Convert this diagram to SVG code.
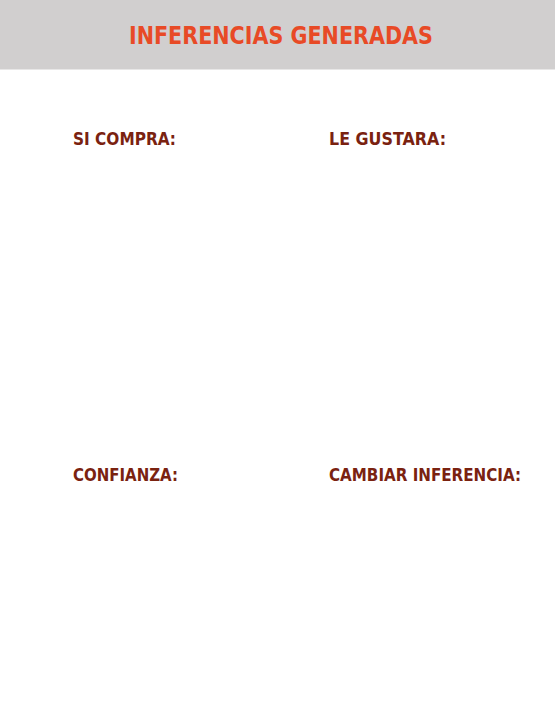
<svg xmlns="http://www.w3.org/2000/svg" width="555" height="705" viewBox="0 0 555 705">
  <style>
    .title { font-family: "DejaVu Sans", "Liberation Sans", sans-serif; font-weight: bold; font-size: 25px; fill: #e84a26; }
    .label { font-family: "DejaVu Sans", "Liberation Sans", sans-serif; font-weight: bold; font-size: 17.5px; fill: #7a2210; }
  </style>
  <rect x="0" y="0" width="555" height="705" fill="#ffffff"/>
  <g id="header">
    <rect x="0" y="0" width="555" height="69.5" fill="#d1cfcf"/>
    <text class="title" x="129" y="44" textLength="304" lengthAdjust="spacingAndGlyphs">INFERENCIAS GENERADAS</text>
  </g>
  <g id="si-compra">
    <text class="label" x="73" y="145" textLength="103" lengthAdjust="spacingAndGlyphs">SI COMPRA:</text>
  </g>
  <g id="le-gustara">
    <text class="label" x="329" y="145" textLength="117" lengthAdjust="spacingAndGlyphs">LE GUSTARA:</text>
  </g>
  <g id="confianza">
    <text class="label" x="73" y="481" textLength="105" lengthAdjust="spacingAndGlyphs">CONFIANZA:</text>
  </g>
  <g id="cambiar-inferencia">
    <text class="label" x="329" y="481" textLength="192" lengthAdjust="spacingAndGlyphs">CAMBIAR INFERENCIA:</text>
  </g>
  <g id="connectors"></g>
</svg>
